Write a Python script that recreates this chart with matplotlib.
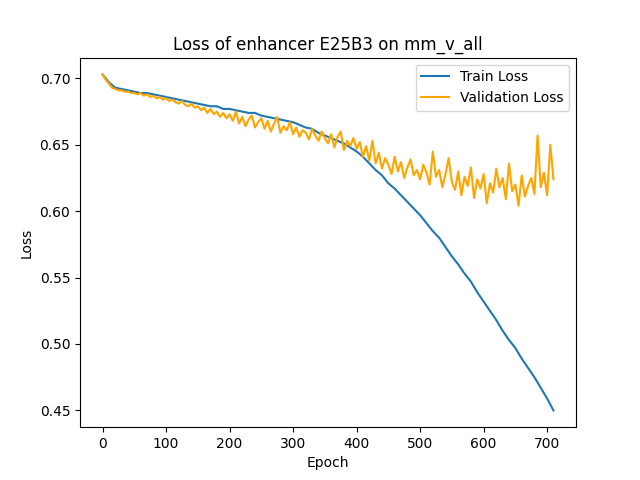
import numpy as np
import matplotlib
matplotlib.use("Agg")
import matplotlib.pyplot as plt

# train loss read every 10 epochs
train_epochs = np.arange(0, 720, 10)
train_loss = [0.703, 0.697, 0.693, 0.692, 0.691, 0.690, 0.689, 0.689, 0.688, 0.687,
              0.686, 0.685, 0.684, 0.683, 0.682, 0.681, 0.680, 0.679, 0.679, 0.677,
              0.677, 0.676, 0.675, 0.674, 0.674, 0.672, 0.671, 0.670, 0.669, 0.668,
              0.667, 0.665, 0.663, 0.662, 0.659, 0.657, 0.655, 0.653, 0.651, 0.648,
              0.645, 0.641, 0.636, 0.631, 0.627, 0.621, 0.617, 0.612, 0.607, 0.602,
              0.597, 0.591, 0.585, 0.580, 0.573, 0.566, 0.560, 0.553, 0.547, 0.539,
              0.532, 0.525, 0.518, 0.510, 0.503, 0.497, 0.489, 0.482, 0.475, 0.467,
              0.459, 0.450]

# validation loss read every 5 epochs
val_epochs = np.arange(0, 715, 5)
val_loss = [0.703, 0.699, 0.696, 0.693, 0.692, 0.691, 0.691, 0.690, 0.690, 0.689,
            0.689, 0.688, 0.689, 0.687, 0.688, 0.686, 0.687, 0.685, 0.686, 0.684,
            0.685, 0.683, 0.684, 0.682, 0.681, 0.683, 0.680, 0.679, 0.681, 0.678,
            0.679, 0.676, 0.678, 0.674, 0.677, 0.673, 0.675, 0.671, 0.674, 0.670,
            0.673, 0.668, 0.675, 0.666, 0.671, 0.664, 0.669, 0.672, 0.663, 0.667,
            0.670, 0.662, 0.668, 0.660, 0.666, 0.671, 0.659, 0.664, 0.661, 0.667,
            0.658, 0.663, 0.656, 0.661, 0.659, 0.654, 0.662, 0.657, 0.653, 0.660,
            0.655, 0.651, 0.658, 0.648, 0.656, 0.660, 0.646, 0.653, 0.649, 0.655,
            0.647, 0.652, 0.641, 0.649, 0.638, 0.653, 0.636, 0.644, 0.632, 0.640,
            0.635, 0.628, 0.641, 0.630, 0.637, 0.625, 0.633, 0.639, 0.627, 0.631,
            0.624, 0.635, 0.629, 0.620, 0.645, 0.626, 0.631, 0.618, 0.628, 0.640,
            0.622, 0.616, 0.630, 0.612, 0.626, 0.619, 0.633, 0.610, 0.624, 0.617,
            0.628, 0.606, 0.621, 0.614, 0.632, 0.618, 0.625, 0.609, 0.636, 0.615,
            0.620, 0.604, 0.627, 0.611, 0.619, 0.625, 0.613, 0.657, 0.618, 0.629,
            0.612, 0.650, 0.624]

fig, ax = plt.subplots(figsize=(6.4, 4.8), dpi=100)
ax.plot(train_epochs, train_loss, label='Train Loss')
ax.plot(val_epochs, val_loss, label='Validation Loss', color='orange')
ax.set_title('Loss of enhancer E25B3 on mm_v_all')
ax.set_xlabel('Epoch')
ax.set_ylabel('Loss')
ax.legend(loc='upper right')
fig.savefig('out.png')
